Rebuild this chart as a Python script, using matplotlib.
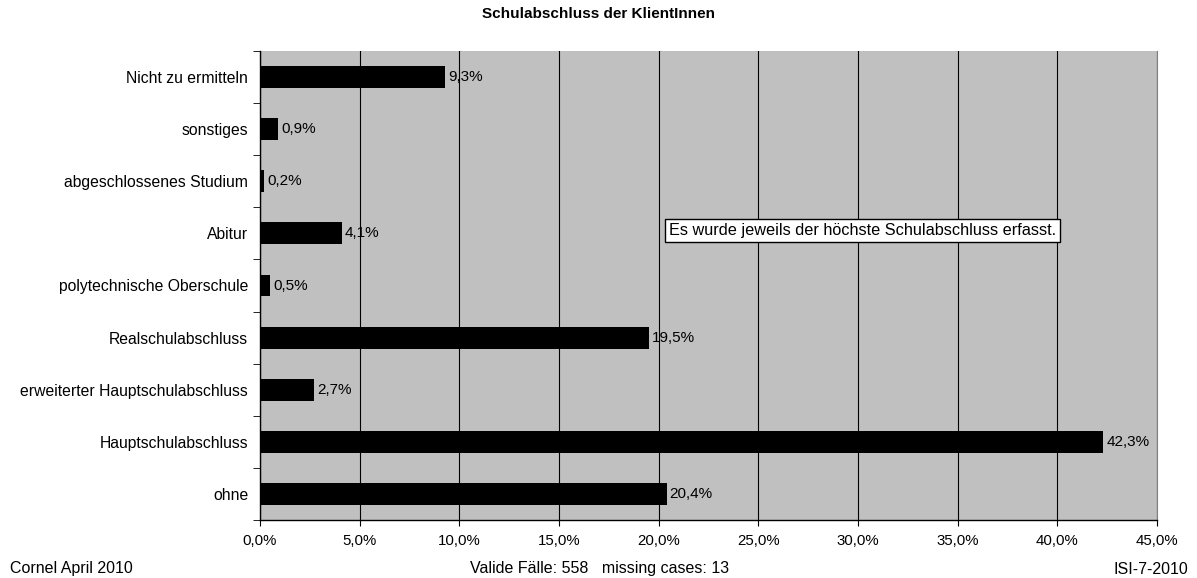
import matplotlib.pyplot as plt
from matplotlib.ticker import FuncFormatter, MultipleLocator

plt.rcParams['font.family'] = ['Liberation Sans', 'DejaVu Sans']

# Daten
kategorien = ['ohne', 'Hauptschulabschluss', 'erweiterter Hauptschulabschluss',
              'Realschulabschluss', 'polytechnische Oberschule', 'Abitur',
              'abgeschlossenes Studium', 'sonstiges', 'Nicht zu ermitteln']
anteile = [20.4, 42.3, 2.7, 19.5, 0.5, 4.1, 0.2, 0.9, 9.3]

fig = plt.figure(figsize=(11.97, 5.78), dpi=100)
ax = fig.add_axes([260 / 1197, 1 - 520 / 578, 897 / 1197, 469 / 578])
ax.set_facecolor('#c0c0c0')

pos = list(range(len(kategorien)))
ax.barh(pos, anteile, height=0.42, color='black', zorder=3)
for p, v in zip(pos, anteile):
    ax.text(v + 0.15, p, ('%.1f%%' % v).replace('.', ','), va='center', ha='left',
            fontsize=11, zorder=4)

ax.set_xlim(0, 45)
ax.set_ylim(-0.5, len(kategorien) - 0.5)
ax.xaxis.set_major_locator(MultipleLocator(5))
ax.xaxis.set_major_formatter(FuncFormatter(lambda x, _: ('%.1f%%' % x).replace('.', ',')))
ax.grid(axis='x', color='black', linewidth=0.8, zorder=1)

ax.set_yticks(pos)
ax.set_yticklabels(kategorien, fontsize=11.3)
ax.set_yticks([p - 0.5 for p in pos] + [len(pos) - 0.5], minor=True)
ax.tick_params(axis='y', which='major', length=0, pad=8.5)
ax.tick_params(axis='y', which='minor', length=5, direction='out')
ax.tick_params(axis='x', labelsize=10.8, length=4, direction='out', pad=6)

ax.spines['top'].set_visible(False)
ax.spines['right'].set_color('#808080')
ax.spines['left'].set_linewidth(1)
ax.spines['bottom'].set_linewidth(1)

ax.text(0.456, 0.618, 'Es wurde jeweils der höchste Schulabschluss erfasst.',
        transform=ax.transAxes, fontsize=11.7, va='center', ha='left', zorder=5,
        bbox=dict(boxstyle='square,pad=0.25', facecolor='white', edgecolor='black', linewidth=1))

fig.text(0.5, 1 - 14 / 578, 'Schulabschluss der KlientInnen', ha='center', va='center',
         fontsize=11, fontweight='bold')
fig.text(10 / 1197, 1 - 569 / 578, 'Cornel April 2010', ha='left', va='center', fontsize=11.5)
fig.text(600 / 1197, 1 - 569 / 578, 'Valide Fälle: 558   missing cases: 13', ha='center',
         va='center', fontsize=11.5)
fig.text(1188 / 1197, 1 - 569 / 578, 'ISI-7-2010', ha='right', va='center', fontsize=11.5)

fig.savefig('out.png', dpi=100)
